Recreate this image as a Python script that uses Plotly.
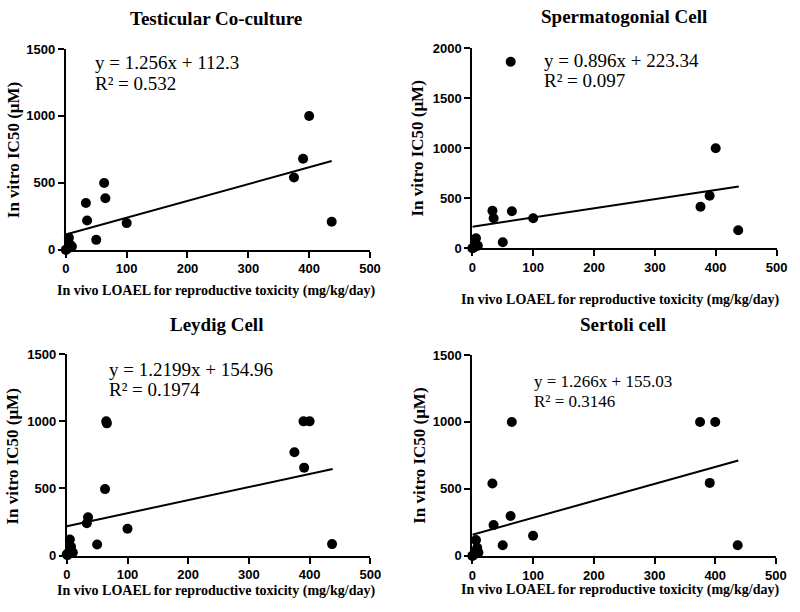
import plotly.graph_objects as go

W, H = 800, 612

# ---------------- data ----------------
titles = ["Testicular Co-culture", "Spermatogonial Cell", "Leydig Cell", "Sertoli cell"]
x_title = "In vivo LOAEL for reproductive toxicity (mg/kg/day)"
y_title = "In vitro IC50 (μM)"
x_ticks = [0, 100, 200, 300, 400, 500]

# Testicular Co-culture
tc_x = [0, 1, 3, 5, 7, 10, 33, 35, 50, 63, 65, 100, 375, 390, 400, 437]
tc_y = [0, 3, 10, 90, 40, 25, 350, 220, 75, 500, 385, 200, 540, 680, 1000, 210]
tc_fit_x = [0, 437]
tc_fit_y = [115, 663]
tc_eq = ["y = 1.256x + 112.3", "R² = 0.532"]

# Spermatogonial Cell
sg_x = [0, 1, 3, 4, 6, 9, 33, 35, 50, 63, 65, 100, 375, 390, 400, 437]
sg_y = [0, 3, 10, 55, 100, 25, 375, 300, 60, 1865, 370, 300, 415, 525, 1000, 180]
sg_fit_x = [0, 438]
sg_fit_y = [215, 618]
sg_eq = ["y = 0.896x + 223.34", "R² = 0.097"]

# Leydig Cell
ly_x = [0, 1, 3, 5, 7, 10, 33, 35, 50, 63, 65, 66, 100, 375, 390, 391, 400, 437]
ly_y = [10, 2, 20, 120, 65, 22, 240, 285, 82, 495, 1000, 985, 200, 770, 1000, 655, 1000, 85]
ly_fit_x = [0, 438]
ly_fit_y = [218, 645]
ly_eq = ["y = 1.2199x + 154.96", "R² = 0.1974"]

# Sertoli cell
sc_x = [0, 1, 3, 4, 6, 8, 10, 33, 35, 50, 63, 65, 100, 375, 391, 400, 437]
sc_y = [0, 3, 10, 30, 118, 60, 25, 540, 230, 80, 298, 1000, 150, 1000, 545, 1000, 80]
sc_fit_x = [0, 438]
sc_fit_y = [158, 712]
sc_eq = ["y = 1.266x + 155.03", "R² = 0.3146"]

y_max = [1500, 2000, 1500, 1500]
y_ticks = [[0, 500, 1000, 1500], [0, 500, 1000, 1500, 2000], [0, 500, 1000, 1500], [0, 500, 1000, 1500]]

# ---------------- layout geometry (pixels) ----------------
# (x_left, x_right, y_bottom(0), y_top(max))
boxes = [(63, 373, 249, 43), (477.3, 787.3, 247.3, 42.3), (64, 373.3, 562.3, 356), (477.3, 786.7, 562.7, 356.7)]
title_pos = [(216, 12), (632, 10), (217, 325), (631, 325)]
xtitle_pos = [(216, 291), (628, 300), (216, 599), (628, 598)]
ytitle_pos = [(10, 147), (421, 145), (9, 461), (424, 460)]
eq_pos = [(91, 57, 78), (548, 55, 75), (105, 372, 392), (538, 384, 404)]
eq_size = [19, 19, 19, 17]

px = lambda v: v / W
py = lambda v: 1 - v / H

panels = [
    (tc_x, tc_y, tc_fit_x, tc_fit_y, tc_eq),
    (sg_x, sg_y, sg_fit_x, sg_fit_y, sg_eq),
    (ly_x, ly_y, ly_fit_x, ly_fit_y, ly_eq),
    (sc_x, sc_y, sc_fit_x, sc_fit_y, sc_eq),
]

fig = go.Figure()
annotations = []
layout_axes = {}
serif = "Liberation Serif"
sans = "Liberation Sans"

for i, (xs, ys, fx, fy, eq) in enumerate(panels):
    n = "" if i == 0 else str(i + 1)
    xa, ya = "x" + n, "y" + n
    fig.add_trace(go.Scatter(x=fx, y=fy, mode="lines", line=dict(color="black", width=2),
                             xaxis=xa, yaxis=ya, showlegend=False, hoverinfo="skip"))
    fig.add_trace(go.Scatter(x=xs, y=ys, mode="markers", marker=dict(color="black", size=10),
                             xaxis=xa, yaxis=ya, showlegend=False, cliponaxis=False))
    xl, xr, yb, yt = boxes[i]
    common = dict(showline=True, linecolor="black", linewidth=2, ticks="outside", ticklen=6,
                  tickwidth=2, tickcolor="black", showgrid=False, zeroline=False,
                  tickfont=dict(family=sans, size=13, color="black", weight="bold"))
    layout_axes["xaxis" + n] = dict(domain=[px(xl), px(xr)], range=[0, 500], tickvals=x_ticks,
                                    anchor=ya, **common)
    layout_axes["yaxis" + n] = dict(domain=[py(yb), py(yt)], range=[0, y_max[i]], tickvals=y_ticks[i],
                                    anchor=xa, **common)
    tx, ty = title_pos[i]
    annotations.append(dict(text="<b>%s</b>" % titles[i], x=px(tx), y=py(ty), xref="paper", yref="paper",
                            showarrow=False, xanchor="center", yanchor="middle",
                            font=dict(family=serif, size=19, color="black")))
    tx, ty = xtitle_pos[i]
    annotations.append(dict(text="<b>%s</b>" % x_title, x=px(tx), y=py(ty), xref="paper", yref="paper",
                            showarrow=False, xanchor="center", yanchor="middle",
                            font=dict(family=serif, size=14, color="black")))
    tx, ty = ytitle_pos[i]
    annotations.append(dict(text="<b>%s</b>" % y_title, x=px(tx), y=py(ty), xref="paper", yref="paper",
                            showarrow=False, xanchor="center", yanchor="middle", textangle=-90,
                            font=dict(family=serif, size=17, color="black")))
    ex, ey1, ey2 = eq_pos[i]
    for line, ey in zip(eq, (ey1, ey2)):
        annotations.append(dict(text=line, x=px(ex), y=py(ey), xref="paper", yref="paper",
                                showarrow=False, xanchor="left", yanchor="middle",
                                font=dict(family=serif, size=eq_size[i], color="black")))

fig.update_layout(width=W, height=H, margin=dict(l=0, r=0, t=0, b=0),
                  paper_bgcolor="white", plot_bgcolor="white", hovermode=False,
                  annotations=annotations, **layout_axes)

fig.write_html("out.html", config={"displayModeBar": False},
               post_script="document.body.style.margin='0';document.body.style.overflow='hidden';")
